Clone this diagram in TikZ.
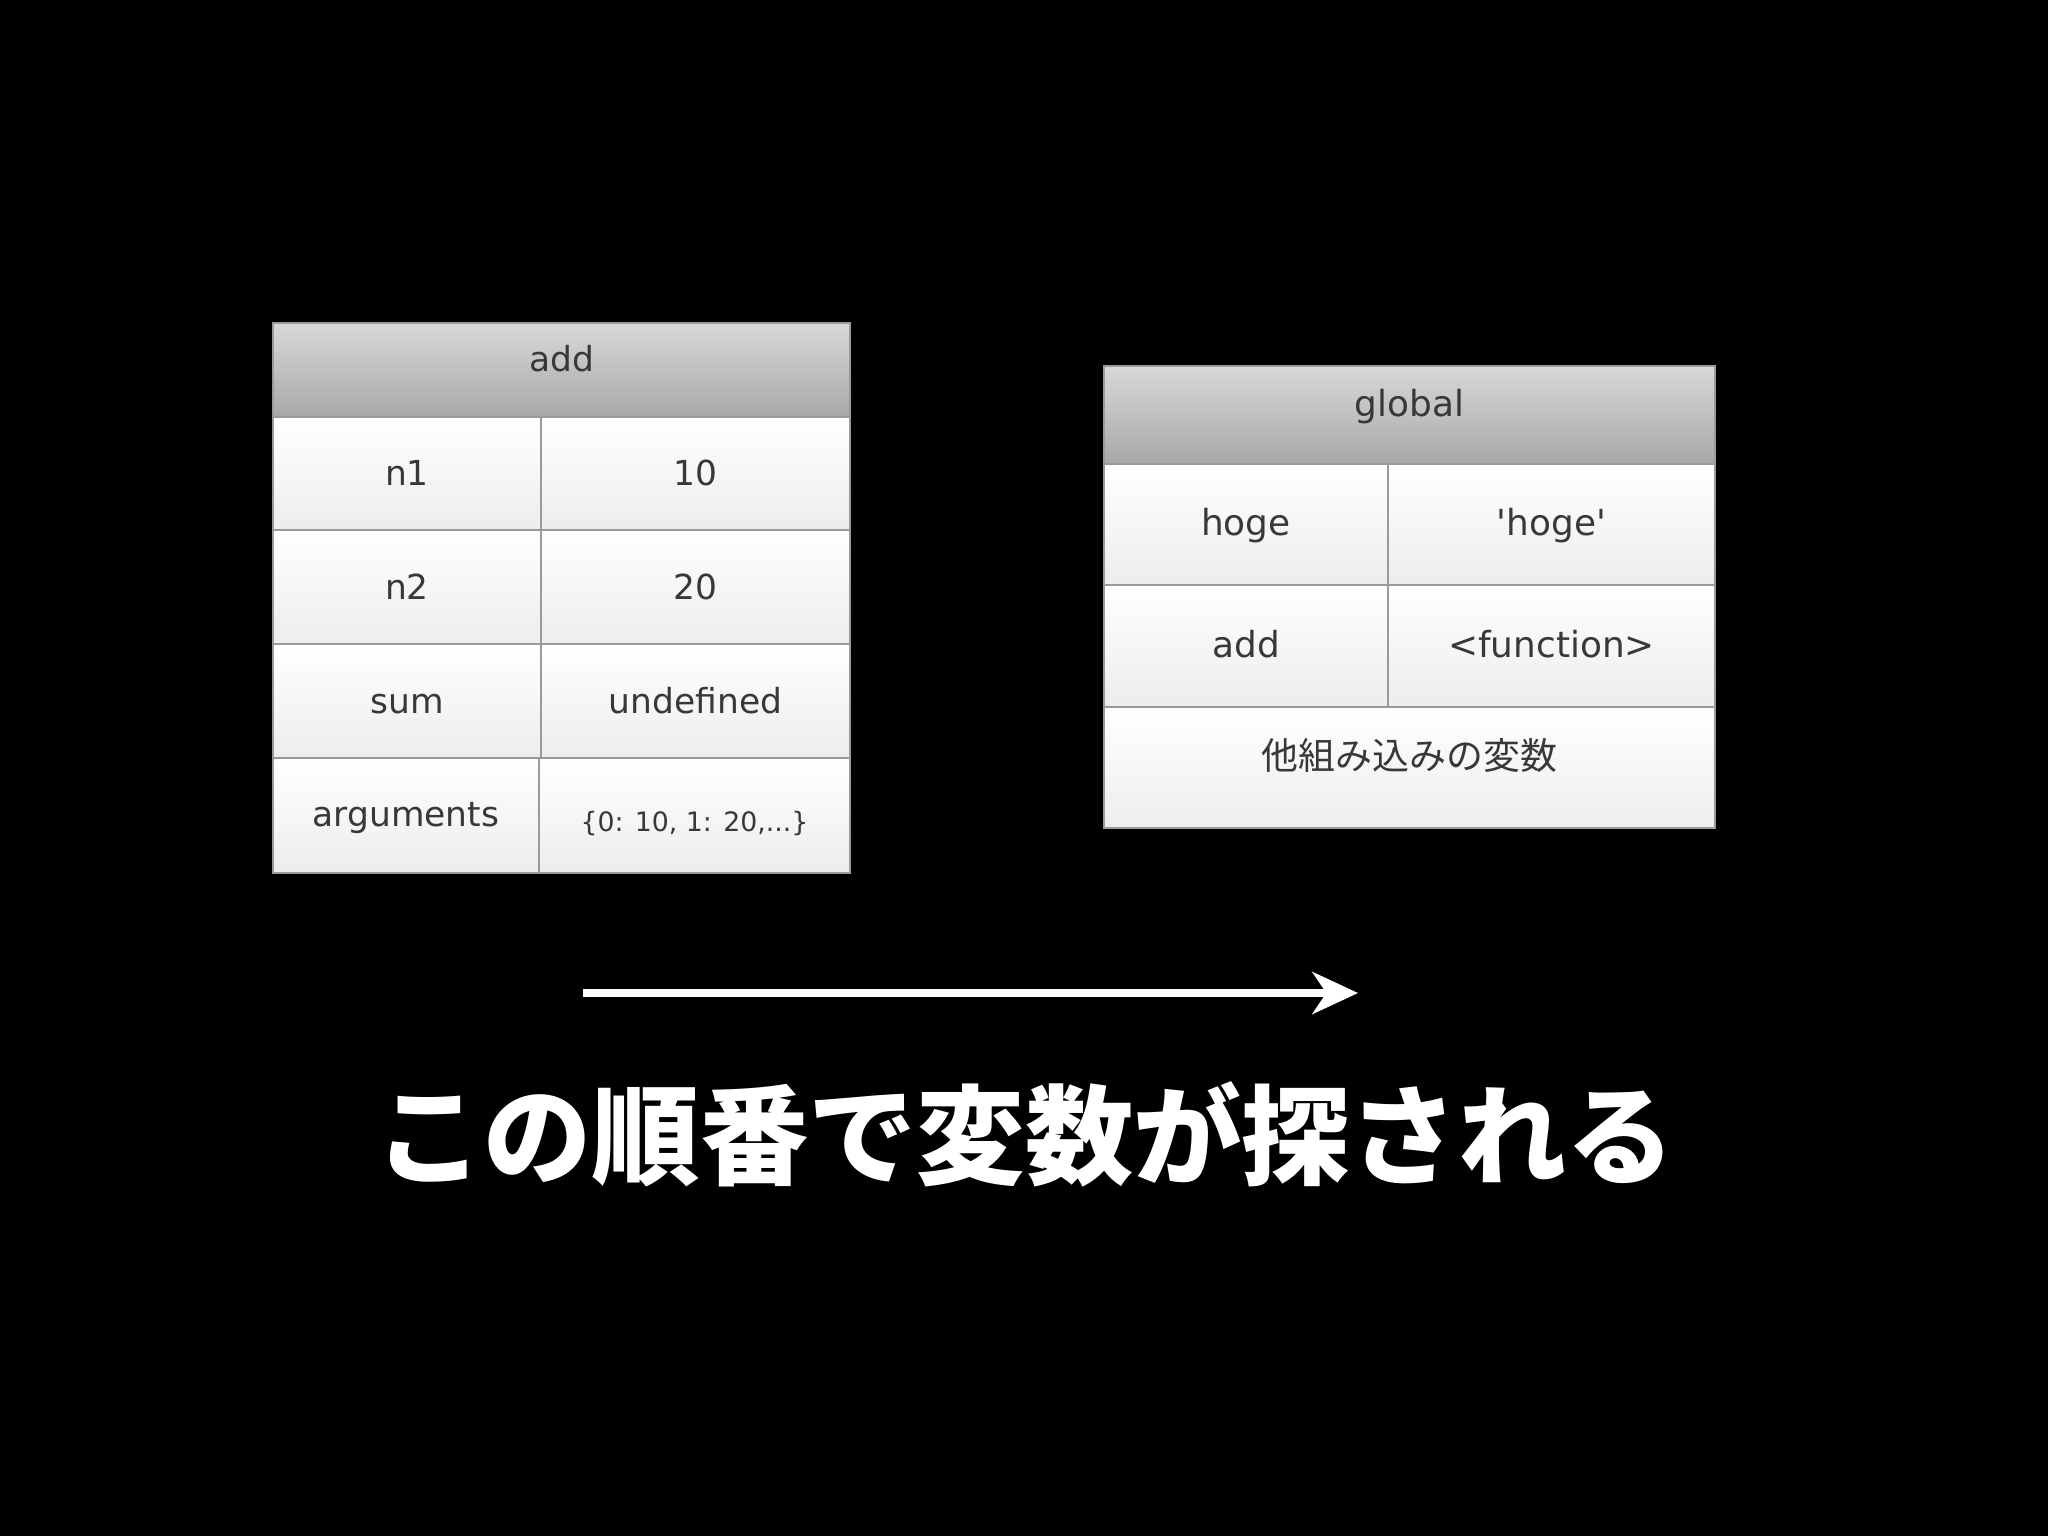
\documentclass[tikz,border=0pt]{standalone}
\usepackage{fontspec}
\setmainfont{DejaVu Sans}
\newfontfamily\jp{Noto Sans CJK JP}
\usetikzlibrary{arrows.meta}
\definecolor{txt}{HTML}{383838}
\definecolor{bord}{HTML}{9A9A9A}
\definecolor{hdtop}{HTML}{D8D8D8}
\definecolor{hdbot}{HTML}{A8A8A8}
\definecolor{celmid}{HTML}{FAFAFA}
\definecolor{celbot}{HTML}{EDEDED}
\tikzset{
  box/.style={rectangle, draw=bord, line width=0.6pt, inner sep=0pt, text=txt},
  hdr/.style={box, top color=hdtop, bottom color=hdbot, text height=0.5em, text depth=0.4em},
  cel/.style={box, top color=white, middle color=celmid, bottom color=celbot, text height=0.75em, text depth=0.05em},
  lt/.style={font=\fontsize{9.8pt}{11pt}\selectfont},
  rt/.style={font=\fontsize{10.2pt}{12pt}\selectfont, text height=0.72em, text depth=0.08em},
}
\begin{document}
\begin{tikzpicture}[x=0.01cm,y=-0.01cm]
\fill[black] (0,0) rectangle (2048,1536);
\useasboundingbox (0,0) rectangle (2048,1536);
% left table (add)
\node[hdr, lt, minimum width=5.77cm, minimum height=0.94cm] (addh) at (561.5,370) {add};
\node[cel, lt, minimum width=2.68cm, minimum height=1.13cm] (n1k) at (407,473.5) {n1};
\node[cel, lt, minimum width=3.09cm, minimum height=1.13cm] (n1v) at (695.5,473.5) {10};
\node[cel, lt, minimum width=2.68cm, minimum height=1.14cm] (n2k) at (407,587) {n2};
\node[cel, lt, minimum width=3.09cm, minimum height=1.14cm] (n2v) at (695.5,587) {20};
\node[cel, lt, minimum width=2.68cm, minimum height=1.14cm] (sumk) at (407,701) {sum};
\node[cel, lt, minimum width=3.09cm, minimum height=1.14cm] (sumv) at (695.5,701) {undefined};
\node[cel, lt, text height=0.72em, text depth=0.08em, minimum width=2.66cm, minimum height=1.15cm] (argk) at (406,815.5) {arguments};
\node[cel, font=\fontsize{7.6pt}{9pt}\selectfont, text height=0.95em, text depth=0.05em, minimum width=3.11cm, minimum height=1.15cm] (argv) at (694.5,815.5) {\{0: 10, 1: 20,...\}};
% right table (global)
\node[hdr, rt, text height=0.5em, text depth=0.4em, minimum width=6.11cm, minimum height=0.98cm] (glh) at (1409.5,415) {global};
\node[cel, rt, minimum width=2.84cm, minimum height=1.21cm] (hok) at (1246,524.5) {hoge};
\node[cel, rt, minimum width=3.27cm, minimum height=1.21cm] (hov) at (1551.5,524.5) {\textquotesingle hoge\textquotesingle};
\node[cel, rt, minimum width=2.84cm, minimum height=1.22cm] (adk) at (1246,646) {add};
\node[cel, rt, minimum width=3.27cm, minimum height=1.22cm] (adv) at (1551.5,646) {<function>};
\node[cel, font=\jp\fontsize{10.5pt}{12pt}\selectfont, text height=0.55em, text depth=0.42em, minimum width=6.11cm, minimum height=1.21cm] (oth) at (1409.5,767.5) {他組み込みの変数};
% arrow
\coordinate (as) at (583,993);
\coordinate (ae) at (1358,993);
\draw[white, line width=2pt, -{Stealth[length=13pt, width=12pt, inset=4pt]}] (as) -- (ae);
% caption
\node[text=white, font=\jp\bfseries\fontsize{30.8pt}{34pt}\selectfont, inner sep=0pt] (cap) at (1025,1134) {この順番で変数が探される};
\end{tikzpicture}
\end{document}
